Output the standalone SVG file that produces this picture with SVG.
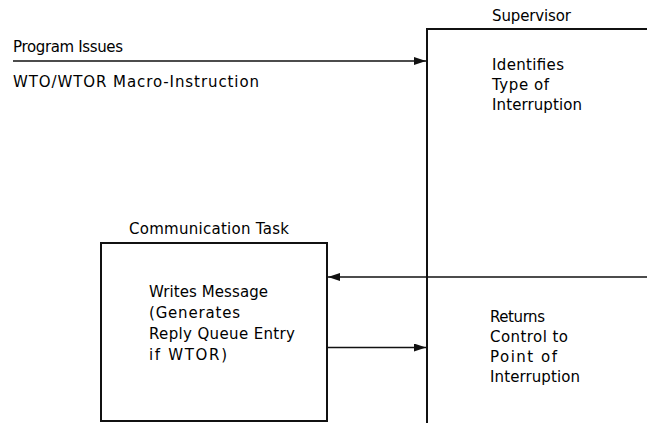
<svg xmlns="http://www.w3.org/2000/svg" width="647" height="423" viewBox="0 0 647 423">
  <style>
    text { font-family: "DejaVu Sans", "Liberation Sans", sans-serif; font-size: 15px; fill: #000; }
    .edge { fill: none; stroke: #111; stroke-width: 2; }
    .conn { fill: none; stroke: #111; stroke-width: 1.5; }
  </style>
  <defs>
    <marker id="arrow" viewBox="0 0 12 8" refX="12" refY="4" markerWidth="12" markerHeight="8" markerUnits="userSpaceOnUse" orient="auto">
      <path d="M0,0 L12,4 L0,8 Z" fill="#111"/>
    </marker>
  </defs>

  <rect width="647" height="423" fill="#fff"/>

  <!-- Program issuing the macro -->
  <g id="program">
    <text x="13" y="52" textLength="110" lengthAdjust="spacing">Program Issues</text>
    <text x="13" y="87" textLength="246" lengthAdjust="spacing">WTO/WTOR Macro-Instruction</text>
  </g>

  <!-- Supervisor: open box running off the right and bottom -->
  <g id="supervisor">
    <text x="492" y="21" textLength="79" lengthAdjust="spacing">Supervisor</text>
    <path class="edge" d="M647,29 H427 V423"/>
    <text x="492" y="70" textLength="72" lengthAdjust="spacing">Identifies</text>
    <text x="492" y="90" textLength="57" lengthAdjust="spacing">Type of</text>
    <text x="492" y="110" textLength="90" lengthAdjust="spacing">Interruption</text>
    <text x="490" y="322" textLength="55" lengthAdjust="spacing">Returns</text>
    <text x="490" y="342" textLength="78" lengthAdjust="spacing">Control to</text>
    <text x="490" y="362" textLength="67" lengthAdjust="spacing">Point of</text>
    <text x="490" y="382" textLength="90" lengthAdjust="spacing">Interruption</text>
  </g>

  <!-- Communication task box -->
  <g id="communication-task">
    <text x="129" y="234" textLength="160" lengthAdjust="spacing">Communication Task</text>
    <rect class="edge" x="101" y="243" width="226" height="178"/>
    <text x="149" y="297" textLength="119" lengthAdjust="spacing">Writes Message</text>
    <text x="149" y="318" textLength="91" lengthAdjust="spacing">(Generates</text>
    <text x="149" y="339" textLength="146" lengthAdjust="spacing">Reply Queue Entry</text>
    <text x="149" y="360" textLength="78" lengthAdjust="spacing">if WTOR)</text>
  </g>

  <!-- Connectors -->
  <g id="connectors">
    <path class="conn" d="M13,61 H426" marker-end="url(#arrow)"/>
    <path class="conn" d="M647,277 H328" marker-end="url(#arrow)"/>
    <path class="conn" d="M328,347.5 H426" marker-end="url(#arrow)"/>
  </g>
</svg>
